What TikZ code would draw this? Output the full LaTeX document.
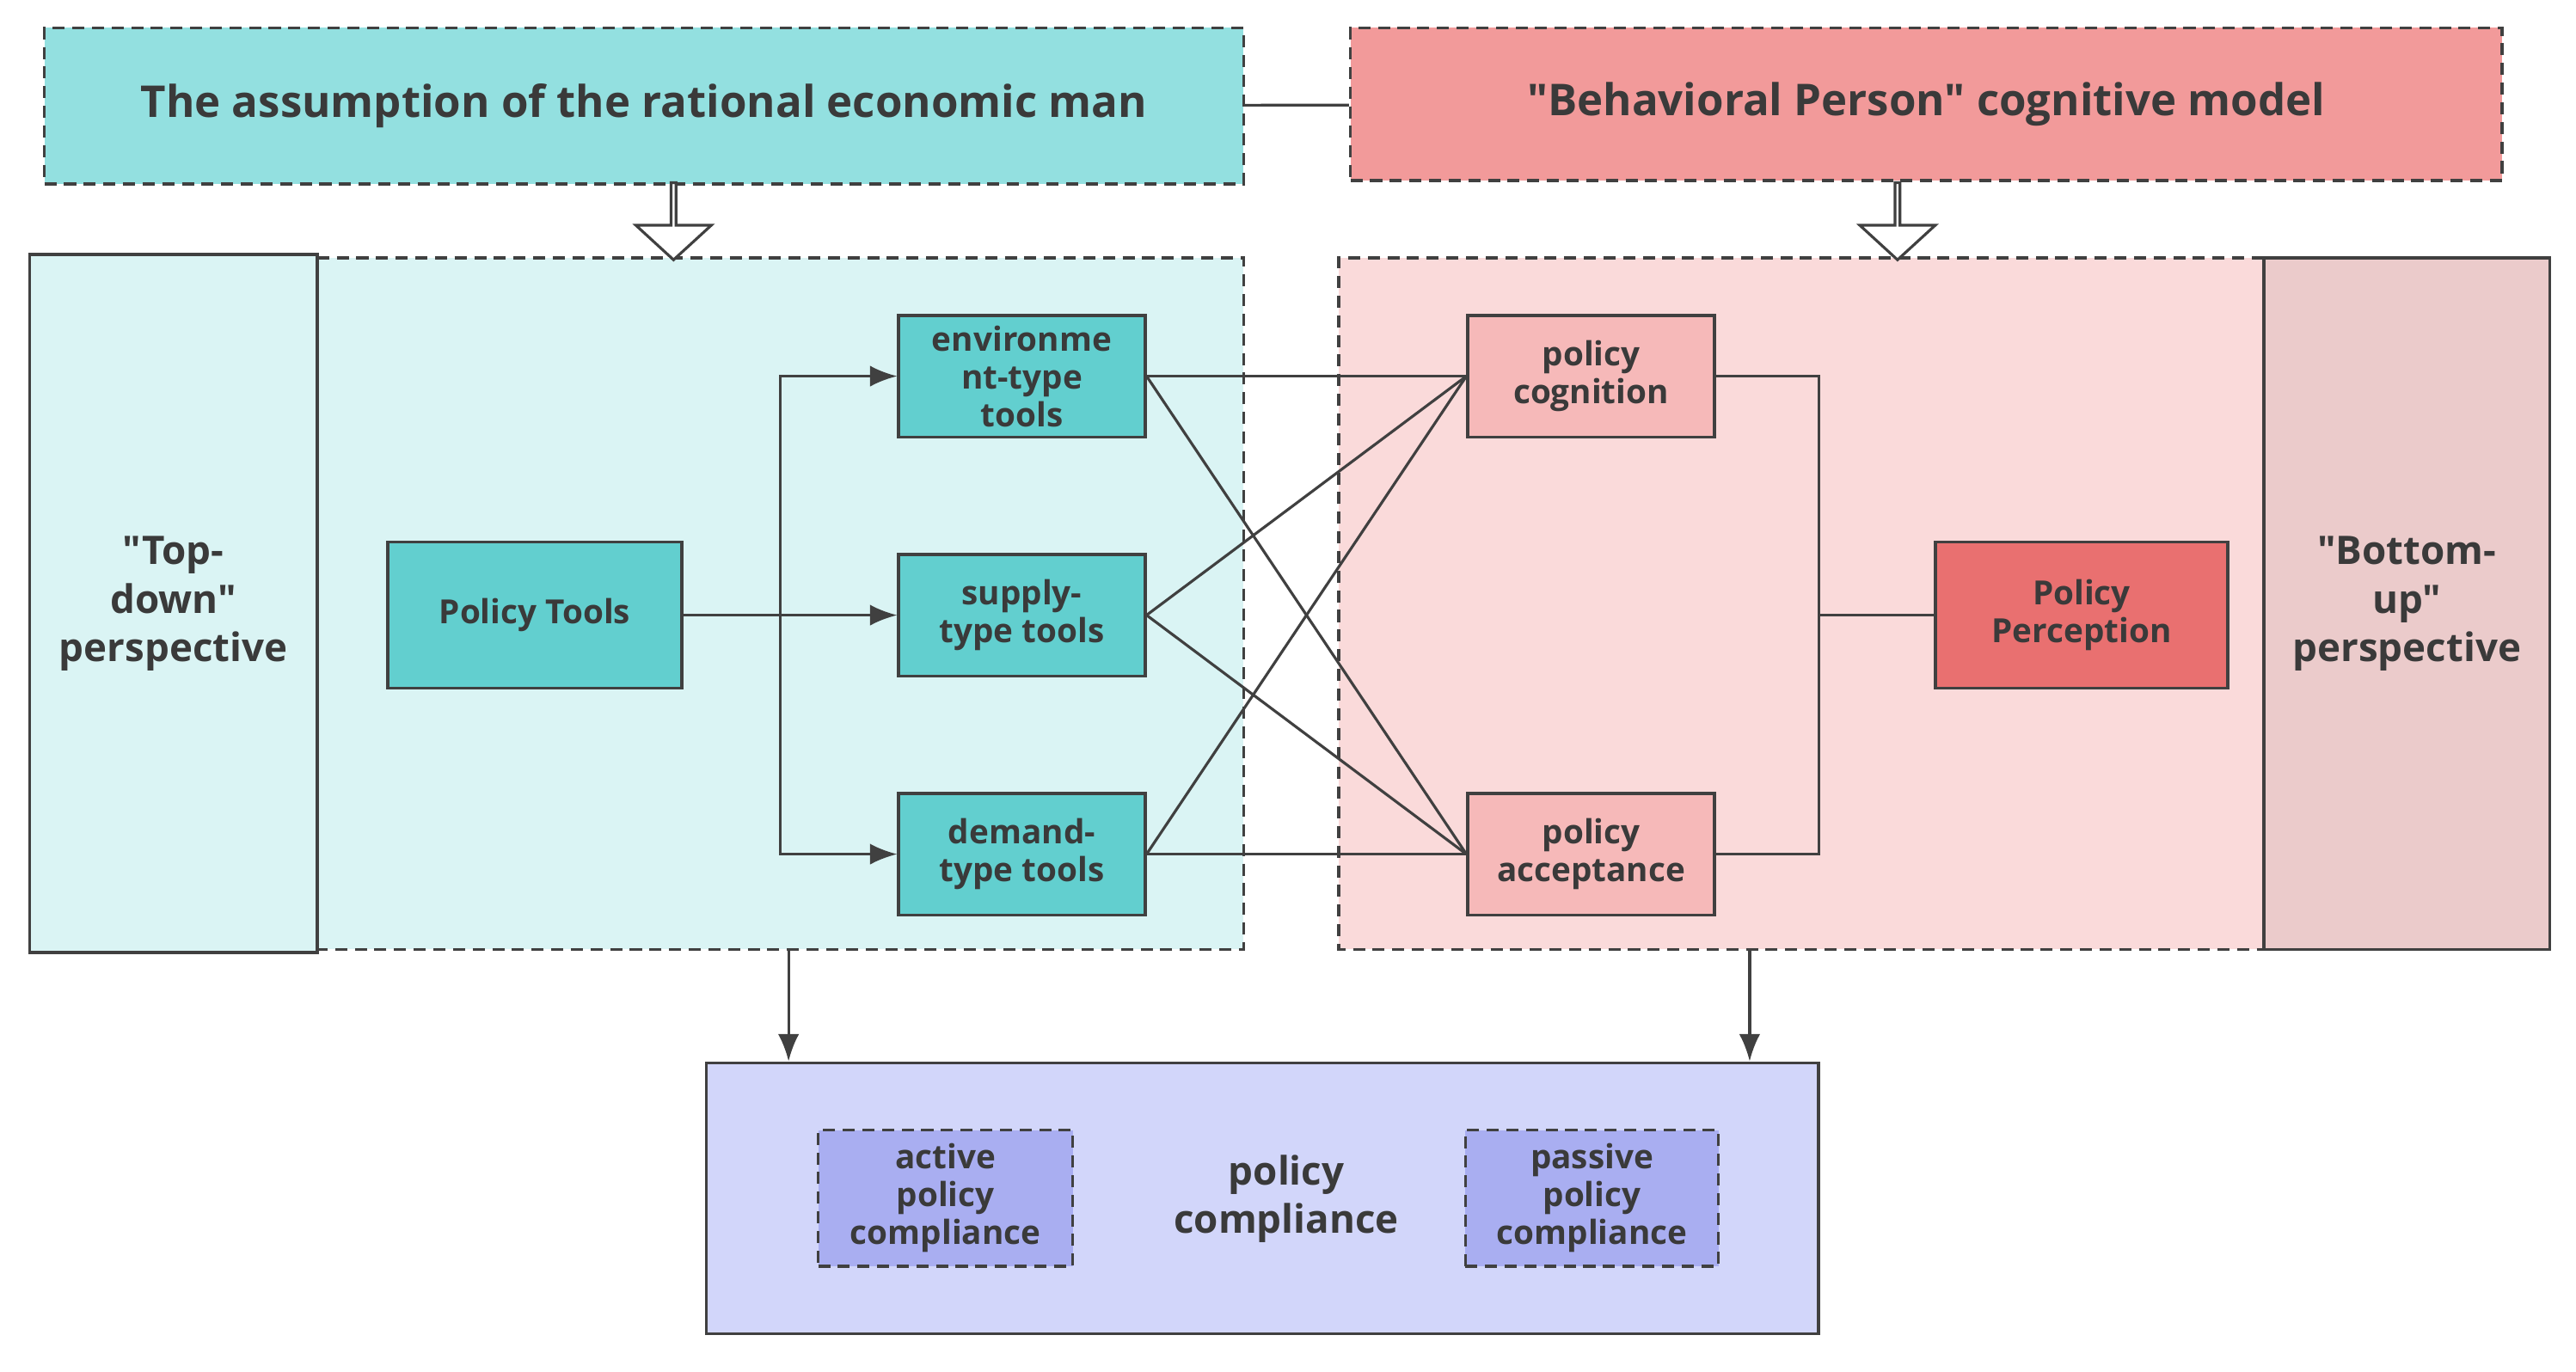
\documentclass[tikz,border=0pt]{standalone}
\usepackage{fontspec}
\setmainfont{Open Sans}[Ligatures=TeXOff]
\usetikzlibrary{arrows.meta,shapes.arrows}
\definecolor{tealA}{HTML}{93E0E0}
\definecolor{tealB}{HTML}{DAF4F4}
\definecolor{tealC}{HTML}{62CFCF}
\definecolor{redA}{HTML}{F29A9A}
\definecolor{redB}{HTML}{FADADA}
\definecolor{redC}{HTML}{F6B9B9}
\definecolor{redD}{HTML}{E97070}
\definecolor{redE}{HTML}{EBCBCB}
\definecolor{bluA}{HTML}{D2D6FA}
\definecolor{bluB}{HTML}{A9AEF1}
\definecolor{txt}{HTML}{3A3A3A}
\newcommand{\q}{\char34\relax}
\begin{document}
\begin{tikzpicture}[x=0.01911cm,y=-0.01911cm,
  bx/.style={draw=black!75,line width=1pt,text=txt,font=\bfseries,align=center,inner sep=0},
  dsh/.style={dash pattern=on 4pt off 2.5pt},
  ln/.style={draw=black!75,line width=0.9pt},
  ar/.style={ln,-{Latex[length=9pt,width=7pt]}},
  hol/.style={single arrow,draw=black!75,fill=white,line width=0.9pt,shape border rotate=270,minimum height=47*0.01911cm,minimum width=46*0.01911cm,single arrow head extend=12*0.01911cm,single arrow tip angle=95,inner sep=0}]
\useasboundingbox (0,0) rectangle (1568,835);
\fill[white] (0,0) rectangle (1568,835);
% regions
\fill[tealB] (193,157) rectangle (757,578);
\draw[bx,dsh] (193,157) -| (757,578) -- (193,578);
\fill[redB] (815,157) rectangle (1378,578);
\draw[bx,dsh] (1378,157) -- (815,157) |- (1378,578);
\node[bx,fill=tealB,minimum width=175*0.01911cm,minimum height=425*0.01911cm,font=\bfseries\fontsize{13}{16}\selectfont] (td) at (105.5,367.5) {\q Top-\\down\q\\perspective};
\node[bx,fill=redE,minimum width=174*0.01911cm,minimum height=421*0.01911cm,font=\bfseries\fontsize{13}{16}\selectfont] (bu) at (1465,367.5) {\q Bottom-\\up\q\\perspective};
% titles
\node[bx,dsh,fill=tealA,minimum width=730*0.01911cm,minimum height=95*0.01911cm,font=\bfseries\fontsize{14.5}{17}\selectfont] (t1) at (392,64.5) {The assumption of the rational economic man};
\node[bx,dsh,fill=redA,minimum width=701*0.01911cm,minimum height=93*0.01911cm,font=\bfseries\fontsize{14.5}{17}\selectfont] (t2) at (1172.5,63.5) {\q Behavioral Person\q\ cognitive model};
\draw[ln] (t1) -- (t2);
\node[hol] (h1) at (410,134) {};
\node[hol] (h2) at (1155,134) {};
% nodes
\tikzset{sm/.style={bx,minimum width=150*0.01911cm,minimum height=74*0.01911cm,font=\bfseries\fontsize{11}{12.5}\selectfont}}
\node[bx,fill=tealC,minimum width=179*0.01911cm,minimum height=89*0.01911cm,font=\bfseries\fontsize{11}{13}\selectfont] (pt) at (325.5,374.5) {Policy Tools};
\node[sm,fill=tealC] (env) at (622,229) {environme\\nt-type\\tools};
\node[sm,fill=tealC] (sup) at (622,374.5) {supply-\\type tools};
\node[sm,fill=tealC] (dem) at (622,520) {demand-\\type tools};
\node[sm,fill=redC] (cog) at (968.5,229) {policy\\cognition};
\node[sm,fill=redC] (acc) at (968.5,520) {policy\\acceptance};
\node[bx,fill=redD,minimum width=178*0.01911cm,minimum height=89*0.01911cm,font=\bfseries\fontsize{11}{12.5}\selectfont] (pp) at (1267,374.5) {Policy\\Perception};
% connectors
\coordinate (br) at (475,374.5);
\draw[ar] (pt) -- (sup);
\draw[ar] (br) |- (env);
\draw[ar] (br) |- (dem);
\foreach \s in {env,sup,dem}{\draw[ln] (\s.east) -- (cog.west); \draw[ln] (\s.east) -- (acc.west);}
\coordinate (jn) at (1107,374.5);
\draw[ln] (cog.east) -| (jn) |- (acc.east);
\draw[ln] (jn) -- (pp);
% compliance
\node[bx,fill=bluA,minimum width=677*0.01911cm,minimum height=165*0.01911cm] (pc) at (768.5,729.5) {};
\node[text=txt,font=\bfseries\fontsize{13}{16}\selectfont,align=center] (pcl) at (783,730) {policy\\compliance};
\node[sm,dsh,fill=bluB,minimum width=155*0.01911cm,minimum height=83*0.01911cm] (apc) at (575.5,729.5) {active\\policy\\compliance};
\node[sm,dsh,fill=bluB,minimum width=154*0.01911cm,minimum height=83*0.01911cm] (ppc) at (969,729.5) {passive\\policy\\compliance};
\coordinate (a1) at (480,578); \coordinate (a2) at (1065,578);
\draw[ar] (a1) -- (a1 |- pc.north);
\draw[ar] (a2) -- (a2 |- pc.north);
\end{tikzpicture}
\end{document}
